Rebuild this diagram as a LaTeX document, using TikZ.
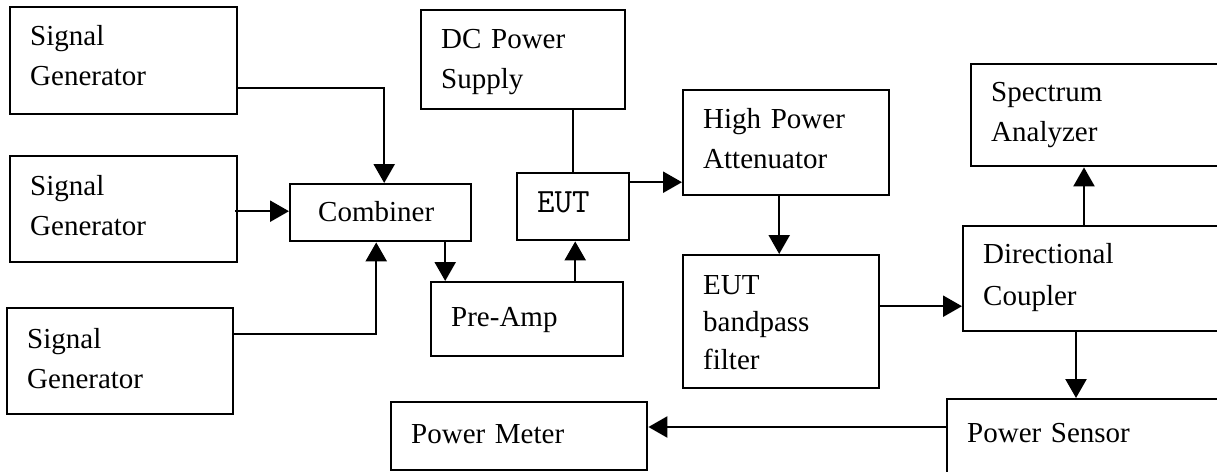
\documentclass[tikz,border=0pt]{standalone}
\usepackage{fontspec}
\setmainfont{Liberation Serif}
\usetikzlibrary{arrows.meta, positioning}

\begin{document}
\begin{tikzpicture}[x=1pt, y=-1pt, font=\fontsize{29}{40}\selectfont,
        blk/.style={draw, line width=2.4pt, anchor=north west, align=left, inner xsep=20pt, inner ysep=0pt},
        arr/.style={-{Triangle[length=19pt, width=21pt]}, line width=2.4pt}]
        \useasboundingbox (0,0) rectangle (1217,471);
        % generators and combiner
        \node[blk, text width=187pt, text height=38pt, text depth=69pt] (sg1) at (9,6) {Signal\\Generator};
        \node[blk, text width=187pt, text height=39pt, text depth=67pt] (sg2) at (9,155) {Signal\\Generator};
        \node[blk, text width=186pt, text height=40pt, text depth=66pt] (sg3) at (6,307) {Signal\\Generator};
        \node[blk, inner xsep=28pt, text width=125pt, text height=37pt, text depth=20pt] (comb) at (289,183) {Combiner};
        % amplifier chain
        \node[blk, text width=152pt, text height=44pt, text depth=30pt] (pre) at (430,281) {Pre-Amp};
        \node[blk, text width=164pt, text height=38pt, text depth=61pt] (dc) at (420,9) {DC Power\\Supply};
        \node[blk, font=\ttfamily\fontsize{34}{40}\selectfont, text width=72pt, text height=39pt, text depth=28pt] (eut) at (516,172) {EUT};
        \node[blk, text width=166pt, text height=38pt, text depth=67pt] (hpa) at (682,89) {High Power\\Attenuator};
        \node[blk, text width=156pt, text height=39pt, text depth=94pt, font=\fontsize{29}{37.5}\selectfont] (bpf) at (682,254) {EUT\\bandpass\\filter};
        % measurement side
        \node[blk, text width=230pt, text height=37pt, text depth=65pt] (spec) at (970,63) {Spectrum\\Analyzer};
        \node[blk, text width=240pt, text height=37pt, text depth=68pt, font=\fontsize{29}{42}\selectfont] (dcp) at (962,225) {Directional\\Coupler};
        \node[blk, text width=260pt, text height=43pt, text depth=77pt] (psen) at (946,398) {Power Sensor};
        \node[blk, text width=216pt, text height=41pt, text depth=27pt] (pmeter) at (390,401) {Power Meter};
        % connections
        \draw[arr] ([yshift=-27pt]sg1.east) -| ([xshift=3.5pt]comb.north);
        \draw[arr] ([xshift=-3pt, yshift=-2pt]sg2.east) -- ([yshift=-2pt]sg2.east -| comb.west);
        \draw[arr] ([yshift=27pt]sg3.east) -| ([xshift=-4.5pt]comb.south);
        \draw[arr] ([xshift=64.5pt]comb.south) -- ([xshift=64.5pt]comb.south |- pre.north);
        \draw[arr] ([xshift=2pt]eut.south |- pre.north) -- ([xshift=2pt]eut.south);
        \draw[line width=2.4pt] (eut.north) -- (eut.north |- dc.south);
        \draw[arr] ([xshift=-2pt, yshift=24.5pt]eut.east) -- ([yshift=24.5pt]eut.east -| hpa.west);
        \draw[arr] ([xshift=-2pt]bpf.north |- hpa.south) -- ([xshift=-2pt]bpf.north);
        \draw[arr] ([xshift=-2pt, yshift=15.5pt]bpf.east) -- ([yshift=15.5pt]bpf.east -| dcp.west);
        \draw[arr] ([xshift=114pt]spec.south west |- dcp.north) -- ([xshift=114pt]spec.south west);
        \draw[arr] ([xshift=114pt]dcp.south west) -- ([xshift=114pt]dcp.south west |- psen.north);
        \draw[arr] ([yshift=-29pt]psen.north west) -- ([yshift=-29pt]psen.north west -| pmeter.east);
\end{tikzpicture}
\end{document}
